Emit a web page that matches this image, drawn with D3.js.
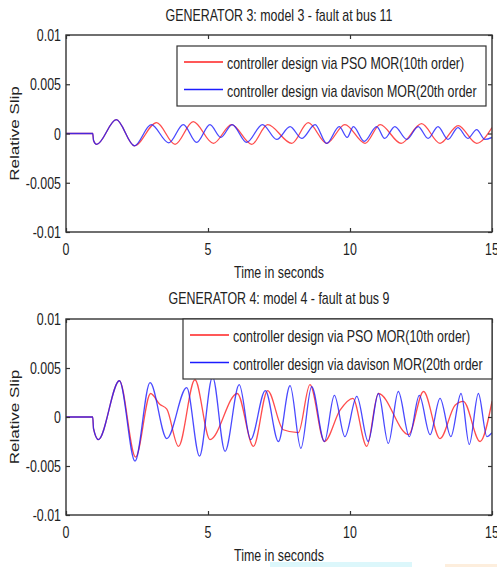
<!DOCTYPE html>
<html>
<head>
<meta charset="utf-8">
<script src="https://cdn.jsdelivr.net/npm/d3@7"></script>
<style>
  body { margin: 0; background: #fff; }
  text { font-family: "Liberation Sans", Arial, sans-serif; fill: #222; }
</style>
</head>
<body>
<div id="chart"></div>
<script>
var width = 497, height = 567,
    sx = 0.73;   // the picture is squeezed sideways, text too

// x ticks / y ticks shared by both panels
var xTicks = [0, 5, 10, 15];
var yTicks = [-0.01, -0.005, 0, 0.005, 0.01];
var legendNames = ["controller design via PSO MOR(10th order)",
                   "controller design via davison MOR(20th order"];

// generator 3, model 3 (time, slip)
var g3Time_pso = [0, 0.94, 0.97, 1.08, 1.77, 2.41, 3.19, 3.84, 4.48, 5.19, 5.83, 6.54, 7.1, 7.95, 8.53,
                  9.18, 9.82, 10.53, 11.06, 11.8, 12.52, 13.17, 13.81, 14.46, 15];
var g3Slip_pso = [0, 0, -0.0007, -0.0011, 0.0014, -0.00125, 0.0011, -0.0011, 0.0012, -0.001, 0.0009, -0.0011,
                  0.0009, -0.001, 0.0011, -0.001, 0.0009, -0.001, 0.0009, -0.001, 0.001, -0.001, 0.0008, -0.001, 0.0006];
var g3Time_dav = [0, 0.94, 0.97, 1.08, 1.77, 2.41, 3.0, 3.62, 4.13, 4.6, 5.07, 5.45, 5.85, 6.36, 6.92, 7.42,
                  7.89, 8.3, 8.77, 9.18, 9.62, 9.9, 10.12, 10.5, 10.94, 11.22, 11.58, 12.0, 12.4, 12.75,
                  13.1, 13.45, 13.8, 14.15, 14.46, 14.75, 15];
var g3Slip_dav = [0, 0, -0.0007, -0.0011, 0.0014, -0.00125, 0.0009, -0.00095, 0.0009, -0.0009, 0.0009, -0.0004,
                  0.0009, -0.0009, 0.0009, -0.0006, 0.0007, -0.0005, 0.0009, -0.001, 0.0007, -0.0004, 0.0007,
                  -0.0008, 0.0007, -0.0005, 0.0007, -0.0006, 0.0007, -0.0005, 0.0007, -0.0006, 0.0006, -0.0005,
                  0.0004, -0.0006, -0.0004];

// generator 4, model 4
var g4Time_pso = [0, 0.94, 0.97, 1.14, 1.88, 2.45, 2.98, 3.3, 3.55, 3.96, 4.54, 5.07, 6.03, 6.6, 7.1, 7.65,
                  8.18, 8.59, 9.1, 9.65, 10.1, 10.59, 11.0, 12.06, 12.59, 13.17, 13.7, 13.99, 14.58, 15];
var g4Slip_pso = [0, 0, -0.0012, -0.0023, 0.0037, -0.0041, 0.0024, 0.0013, 0.0008, -0.003, 0.0038, -0.0023,
                  0.0024, -0.003, 0.0027, -0.0013, -0.0016, 0.0033, -0.0025, 0.0007, 0.0019, -0.003, 0.0024,
                  -0.0018, 0.0026, -0.0022, 0.0012, 0.0016, -0.0025, 0.0016];
var g4Time_dav = [0, 0.94, 0.97, 1.14, 1.88, 2.43, 2.96, 3.55, 4.25, 4.7, 5.16, 5.6, 6.1, 6.5, 7.02, 7.48,
                  7.89, 8.27, 8.65, 9.1, 9.45, 9.82, 10.24, 10.64, 11.0, 11.35, 11.7, 12.09, 12.44, 12.82,
                  13.17, 13.55, 13.91, 14.2, 14.52, 14.82, 15];
var g4Slip_dav = [0, 0, -0.0012, -0.0023, 0.0037, -0.0045, 0.0035, -0.0022, 0.003, -0.004, 0.0041, -0.0035,
                  0.0033, -0.0023, 0.0027, -0.0025, 0.0032, -0.0032, 0.0031, -0.0025, 0.0022, -0.002, 0.0021,
                  -0.0025, 0.0024, -0.0027, 0.0026, -0.002, 0.0022, -0.0018, 0.0019, -0.002, 0.0024, -0.0028,
                  0.0024, -0.002, -0.0016];

var panels = [
  {title: "GENERATOR 3: model 3 - fault at bus 11", top: 35, bottom: 232, titleY: 21,
   t: [g3Time_pso, g3Time_dav], v: [g3Slip_pso, g3Slip_dav],
   leg: {x: 177, y: 46, w: 309, h: 60}},
  {title: "GENERATOR 4: model 4 - fault at bus 9", top: 319, bottom: 515, titleY: 304,
   t: [g4Time_pso, g4Time_dav], v: [g4Slip_pso, g4Slip_dav],
   leg: {x: 183, y: 319, w: 309, h: 60}}
];
var colors = ["#ff2020", "#1c1cff"];

var svg = d3.select("#chart")
  .append("svg")
    .attr("width", width)
    .attr("height", height);

// squeezed text helper
function label(g, x, y, s, anchor, size, rot) {
  return g.append("text")
    .attr("transform", "translate(" + x + "," + y + ") scale(" + sx + ",1)" + (rot ? " rotate(" + rot + ")" : ""))
    .attr("text-anchor", anchor)
    .style("font-size", size + "px")
    .text(s);
}

var left = 66, right = 492;

panels.forEach(function(p, i) {
  var g = svg.append("g");
  var x = d3.scaleLinear().domain([0, 15]).range([left, right]);
  var y = d3.scaleLinear().domain([-0.01, 0.01]).range([p.bottom, p.top]);

  g.append("rect")
    .attr("x", left).attr("y", p.top)
    .attr("width", right - left).attr("height", p.bottom - p.top)
    .style("fill", "#fff");

  g.append("clipPath").attr("id", "clip" + i)
    .append("rect")
      .attr("x", left).attr("y", p.top)
      .attr("width", right - left).attr("height", p.bottom - p.top);

  var line = d3.line()
    .x(function(d) { return x(d[0]); })
    .y(function(d) { return y(d[1]); })
    .curve(d3.curveMonotoneX);

  [0, 1].forEach(function(k) {
    var pts = d3.zip(p.t[k], p.v[k]);
    g.append("path")
      .datum(pts)
      .attr("clip-path", "url(#clip" + i + ")")
      .attr("d", line)
      .style("fill", "none")
      .style("stroke", colors[k])
      .style("stroke-opacity", 0.8)
      .style("stroke-width", 1.3);
  });

  // matlab style ticks on all four sides
  var tl = 4;
  g.append("g").attr("transform", "translate(0," + p.bottom + ")")
    .call(d3.axisBottom(x).tickValues(xTicks).tickSizeInner(-tl).tickSizeOuter(0).tickFormat(""));
  g.append("g").attr("transform", "translate(0," + p.top + ")")
    .call(d3.axisTop(x).tickValues(xTicks).tickSizeInner(-tl).tickSizeOuter(0).tickFormat(""));
  g.append("g").attr("transform", "translate(" + left + ",0)")
    .call(d3.axisLeft(y).tickValues(yTicks).tickSizeInner(-tl).tickSizeOuter(0).tickFormat(""));
  g.append("g").attr("transform", "translate(" + right + ",0)")
    .call(d3.axisRight(y).tickValues(yTicks).tickSizeInner(-tl).tickSizeOuter(0).tickFormat(""));
  g.selectAll(".domain").remove();
  g.selectAll(".tick line").style("stroke", "#333").style("stroke-width", 1.2);

  g.append("rect")
    .attr("x", left).attr("y", p.top)
    .attr("width", right - left).attr("height", p.bottom - p.top)
    .style("fill", "none").style("stroke", "#333").style("stroke-width", 1.4);

  xTicks.forEach(function(d) {
    label(g, x(d), p.bottom + 23, d, "middle", 17);
  });
  yTicks.forEach(function(d) {
    label(g, left - 5, y(d) + 6, d, "end", 17);
  });

  label(g, (left + right) / 2, p.titleY, p.title, "middle", 17);
  label(g, (left + right) / 2, p.bottom + 46, "Time in seconds", "middle", 17);
  label(g, 19, (p.top + p.bottom) / 2, "Relative Slip", "middle", 17, -90);

  // legend
  var L = p.leg;
  g.append("rect")
    .attr("x", L.x).attr("y", L.y).attr("width", L.w).attr("height", L.h)
    .style("fill", "#fff").style("stroke", "#333").style("stroke-width", 1.2);
  legendNames.forEach(function(name, k) {
    var ly = L.y + 16 + k * 27.5;
    g.append("line")
      .attr("x1", L.x + 7).attr("x2", L.x + 46)
      .attr("y1", ly).attr("y2", ly)
      .style("stroke", colors[k]).style("stroke-width", 1.3);
    label(g, L.x + 50, ly + 7, name, "start", 17);
  });
});

// pale smudges along the lower edge of the picture
svg.append("rect").attr("x", 270).attr("y", 562).attr("width", 142).attr("height", 5).style("fill", "#dcf7fb");
svg.append("rect").attr("x", 445).attr("y", 564).attr("width", 52).attr("height", 3).style("fill", "#fdeedd");
</script>
</body>
</html>
